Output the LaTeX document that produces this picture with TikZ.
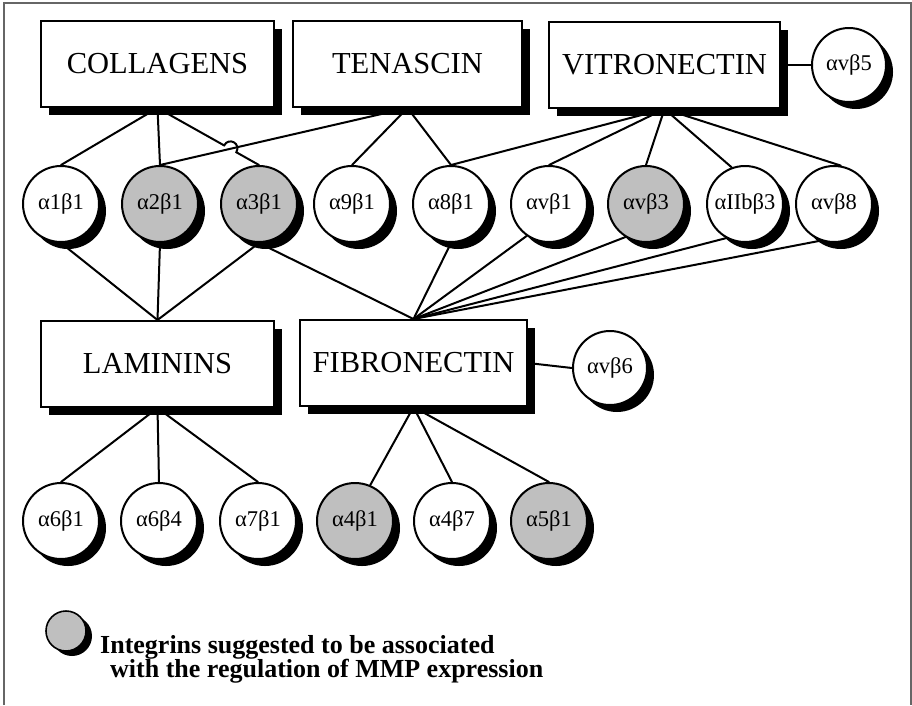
\documentclass[tikz,border=0pt]{standalone}
\usepackage{fontspec}
\setmainfont{Liberation Serif}
\usetikzlibrary{calc,intersections,shadows,backgrounds}
\begin{document}
\begin{tikzpicture}[x=1pt,y=-1pt,
  conn/.style={line width=2pt, line cap=round},
  ecm/.style={draw, line width=2pt, fill=white, minimum width=#1, minimum height=86pt,
    inner sep=0pt, font=\fontsize{30.5}{30.5}\selectfont,
    general shadow={fill=black, shadow xshift=8pt, shadow yshift=-8pt}},
  integ/.style={draw, circle, line width=2pt, fill=white, minimum size=76pt, inner sep=0pt,
    font=\fontsize{22.5}{22.5}\selectfont,
    general shadow={fill=black, shadow xshift=7pt, shadow yshift=-7pt}},
  mmp/.style={integ, fill=black!25},
  legdot/.style={draw, circle, line width=1.6pt, fill=black!25, minimum size=40pt, inner sep=0pt,
    general shadow={fill=black, shadow xshift=6pt, shadow yshift=-5pt}},
  legtext/.style={anchor=base west, inner sep=0pt, font=\bfseries\fontsize{26}{26}\selectfont},
]
\useasboundingbox (0,0) rectangle (912,705);
\draw[black!60, line width=1.5pt] (4,705) -- (4,3) -- (911,3) -- (911,705);

% ECM boxes
\node[ecm=233pt] (col) at (157.5,64) {COLLAGENS};
\node[ecm=229pt] (ten) at (407.5,64) {TENASCIN};
\node[ecm=231pt] (vit) at (664.5,65) {VITRONECTIN};
\node[ecm=233pt] (lam) at (157.5,364) {LAMININS};
\node[ecm=227pt] (fib) at (413.5,363) {FIBRONECTIN};

% integrins, middle row
\node[integ] (a1) at (61,204) {α1β1};
\node[mmp]   (a2) at (160,204) {α2β1};
\node[mmp]   (a3) at (259,204) {α3β1};
\node[integ] (a9) at (352,204) {α9β1};
\node[integ] (a8) at (451,204) {α8β1};
\node[integ] (av1) at (549,204) {αvβ1};
\node[mmp]   (av3) at (646,204) {αvβ3};
\node[integ] (aiib) at (745,204) {αIIbβ3};
\node[integ] (av8) at (834,204) {αvβ8};
\node[integ, minimum size=74pt] (av5) at (849,65) {αvβ5};
\node[integ, minimum size=74pt] (av6) at (610,368) {αvβ6};

% integrins, bottom row
\node[integ] (b1) at (61,521) {α6β1};
\node[integ] (b2) at (159,521) {α6β4};
\node[integ] (b3) at (258,521) {α7β1};
\node[mmp]   (b4) at (355,521) {α4β1};
\node[integ] (b5) at (452,521) {α4β7};
\node[mmp]   (b6) at (549,521) {α5β1};

% legend
\node[legdot] (leg) at (66,631) {};
\node[legtext] (lt1) at (100,653) {Integrins suggested to be associated};
\node[legtext] (lt2) at (110,677) {with the regulation of MMP expression};

\begin{pgfonlayer}{background}
  \fill[white] (0,0) rectangle (912,705);
  % collagens
  \draw[conn] (col.south) -- (a1.north);
  \draw[conn] (col.south) -- (a2.north);
  \path[name path=cl] (col.south) -- (a3.north);
  \path[name path=tl] (ten.south) -- (a2.north);
  \path[name intersections={of=cl and tl, by=X}];
  \coordinate (h1) at ($(X)!7pt!(col.south)$);
  \coordinate (h2) at ($(X)!7pt!(a3.north)$);
  \draw[conn] (col.south) -- (h1)
     .. controls ($(h1)!10pt!-90:(col.south)$) and ($(h2)!10pt!90:(a3.north)$) .. (h2)
     -- (a3.north);
  % tenascin
  \draw[conn] (ten.south) -- (a2.north);
  \draw[conn] (ten.south) -- (a9.north);
  \draw[conn] (ten.south) -- (a8.north);
  % vitronectin
  \draw[conn] (vit.south) -- (a8.north);
  \draw[conn] (vit.south) -- (av1.north);
  \draw[conn] (vit.south) -- (av3.north);
  \draw[conn] (vit.south) -- (aiib.110);
  \draw[conn] (vit.south) -- (av8.80);
  \draw[conn] (vit.east) -- (av5.west);
  % laminins
  \draw[conn] (lam.north) -- (a1.south);
  \draw[conn] (lam.north) -- (a2.south);
  \draw[conn] (lam.north) -- (a3.south);
  \draw[conn] (lam.south) -- (b1.north);
  \draw[conn] (lam.south) -- (b2.north);
  \draw[conn] (lam.south) -- (b3.north);
  % fibronectin
  \draw[conn] (fib.north) -- (a3.south);
  \draw[conn] (fib.north) -- (a8.south);
  \draw[conn] (fib.north) -- (av1.235);
  \draw[conn] (fib.north) -- (av3.238);
  \draw[conn] (fib.north) -- (aiib.241);
  \draw[conn] (fib.north) -- (av8.250);
  \draw[conn] (fib.east) -- (av6.west);
  \draw[conn] (fib.south) -- (b4.67);
  \draw[conn] (fib.south) -- (b5.north);
  \draw[conn] (fib.south) -- (b6.north);
\end{pgfonlayer}
\end{tikzpicture}
\end{document}
